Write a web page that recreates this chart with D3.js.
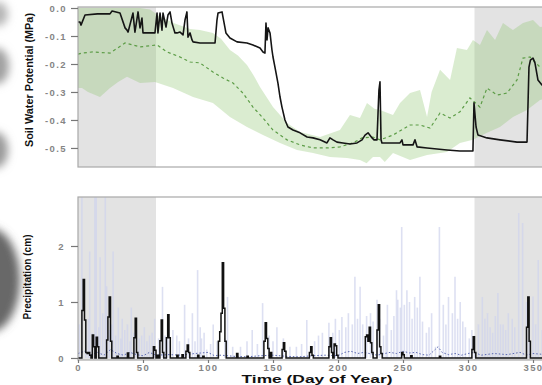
<!DOCTYPE html>
<html>
<head>
<meta charset="utf-8">
<script src="https://cdn.jsdelivr.net/npm/d3@7"></script>
<style>
  body { margin: 0; background: #fff; }
  svg { display: block; }
</style>
</head>
<body>
<div id="chart"></div>
<script>
// soil water potential (top) and precipitation (bottom) through the year
// shaded spans = dormant season
const shadeSpans = [[0, 60], [305, 366]];

// observed soil water potential (MPa)
const swpDay = [0,1.5,2.3,5.4,15,24.6,26.2,32.3,36.2,37.7,38.5,42.3,43.8,46.2,47.7,49.2,50,59.2,60.8,61.5,63.1,64.6,65.4,67.7,69.2,70.8,72.3,74.6,76.2,78.5,80.8,82.3,83.8,84.6,86.2,87.7,88.5,93.8,101.5,105.4,106.9,107.7,110.8,111.5,113.8,116.9,122.3,130,134.6,140,142.3,143.8,144.6,145.4,146.2,147.7,149.2,150,151.5,153.8,155.4,156.9,159.2,161.5,165.4,170.8,176.2,180.8,186.2,191.5,193.8,196.2,199.2,203.8,209.2,214.6,218.5,220.8,223.1,226.2,227.7,230,230.8,231.5,232.3,233.1,233.8,237.7,247.7,249.2,250,257.7,259.2,260.8,268.5,283.8,293.8,303.8,304.6,306.2,307.7,314.6,324.6,337.7,345.4,346.9,348,350,351.5,353.8,356.9,362];
const swpObs = [-0.05,-0.05,-0.061,-0.025,-0.021,-0.021,-0.011,-0.018,-0.071,-0.079,-0.086,-0.018,-0.086,-0.014,-0.071,-0.036,-0.089,-0.089,-0.018,-0.089,-0.018,-0.079,-0.018,-0.068,-0.025,-0.014,-0.054,-0.089,-0.089,-0.086,-0.096,-0.043,-0.014,-0.104,-0.089,-0.114,-0.121,-0.125,-0.125,-0.125,-0.043,-0.018,-0.014,-0.032,-0.089,-0.107,-0.121,-0.125,-0.132,-0.143,-0.157,-0.161,-0.054,-0.114,-0.071,-0.089,-0.15,-0.175,-0.211,-0.268,-0.318,-0.354,-0.4,-0.425,-0.436,-0.446,-0.461,-0.464,-0.471,-0.482,-0.464,-0.471,-0.479,-0.482,-0.486,-0.482,-0.471,-0.454,-0.446,-0.464,-0.471,-0.471,-0.375,-0.293,-0.264,-0.471,-0.482,-0.482,-0.482,-0.471,-0.489,-0.489,-0.471,-0.496,-0.5,-0.507,-0.511,-0.511,-0.339,-0.425,-0.454,-0.464,-0.471,-0.479,-0.479,-0.211,-0.186,-0.179,-0.196,-0.257,-0.275,-0.28];

// simulated mean
const meanDay = [0,3.1,11.5,24.6,36.2,47.7,60.8,68.5,78.5,86.2,93.8,103.8,111.5,119.2,126.9,134.6,142.3,150,160.8,170.8,180.8,191.5,201.5,211.5,218.5,226.9,232.3,242.3,255.4,263.1,270.8,278.5,286.2,293.8,301.5,309.2,314.6,322.3,330,337.7,342.3,347.7,355.4,362];
const meanSwp = [-0.165,-0.161,-0.157,-0.161,-0.125,-0.139,-0.132,-0.157,-0.175,-0.193,-0.196,-0.229,-0.25,-0.268,-0.304,-0.354,-0.393,-0.436,-0.471,-0.489,-0.5,-0.5,-0.496,-0.482,-0.464,-0.461,-0.471,-0.454,-0.418,-0.418,-0.429,-0.375,-0.393,-0.371,-0.321,-0.354,-0.286,-0.311,-0.304,-0.257,-0.179,-0.175,-0.211,-0.22];

// simulated range (upper and lower edge)
const hiDay = [0,16.9,40,47.7,55.4,63.1,74.6,86.2,93.8,103.8,110,116.9,123,130,135,140,150,160.8,170.8,186.2,201.5,209.2,216.9,222.3,228,232.3,242.3,247.7,255.4,263.1,268.5,272,278.5,286.2,291.5,299.2,303.8,309.2,314.6,320.8,326.9,334.6,342.3,350,355.4,366];
const hiSwp = [0,0,0,0,-0.005,-0.03,-0.055,-0.075,-0.079,-0.089,-0.11,-0.15,-0.17,-0.204,-0.24,-0.282,-0.354,-0.411,-0.443,-0.461,-0.436,-0.382,-0.393,-0.339,-0.36,-0.364,-0.382,-0.339,-0.304,-0.293,-0.389,-0.3,-0.221,-0.257,-0.143,-0.15,-0.114,-0.132,-0.079,-0.114,-0.054,-0.079,-0.054,-0.043,-0.068,-0.06];
const loDay = [0,3.1,7.7,16.9,24.6,30.8,37.7,47.7,59.2,73.1,88.5,103.8,116.9,130,142.3,155.4,168.5,180.8,193.8,206.9,216.9,222,226.9,232.3,236,242.3,255.4,268.5,283.8,293.8,303.8,314.6,324.6,334.6,345.4,355.4,366];
const loSwp = [-0.286,-0.286,-0.3,-0.318,-0.286,-0.264,-0.246,-0.268,-0.264,-0.286,-0.318,-0.339,-0.389,-0.425,-0.454,-0.482,-0.507,-0.518,-0.532,-0.536,-0.543,-0.555,-0.532,-0.532,-0.55,-0.518,-0.543,-0.525,-0.514,-0.482,-0.471,-0.446,-0.425,-0.389,-0.364,-0.329,-0.315];

// observed precipitation (cm), days without rain are 0
const obsDay = [3,4,5,6,7,8,9,11,12,14,15,22,23,24,25,30,38,43,44,45,58,59,61,63,64,65,68,69,70,76,80,83,84,85,92,96,108,109,110,111,112,113,122,130,143,144,145,146,148,157,158,159,178,179,180,193,194,195,197,198,199,221,222,223,224,225,226,230,231,232,233,249,250,256,278,303,304,305,345,346,347];
const obsP = [0.85,1.4,0.68,0.1,0.08,0.1,0.05,0.41,0.2,0.37,0.2,0.32,0.73,1.09,0.3,0.03,0.09,0.36,0.71,0.1,0.2,0.14,0.05,0.31,0.68,0.1,0.36,0.77,0.36,0.05,0.06,0.12,0.23,0.1,0.05,0.03,0.3,0.47,0.8,1.7,0.89,0.3,0.08,0.03,0.3,0.63,0.35,0.17,0.1,0.15,0.27,0.12,0.1,0.2,0.05,0.2,0.36,0.1,0.25,0.22,0.05,0.38,0.41,0.3,0.55,0.27,0.1,0.5,0.95,0.2,0.08,0.1,0.06,0.04,0.03,0.15,0.38,0.1,0.55,1.09,0.3];

// simulated precipitation: tallest ensemble spikes
const simDay = [3,9,13,14,17,21,22,27,31,34,38,41,45,49,51,57,59,65,69,73,76,82,88,92,94,95,99,104,115,119,134,142,153,163,176,188,193,198,203,208,213,217,219,222,230,235,238,241,245,246,249,251,253,255,259,261,263,268,272,275,278,281,285,290,294,298,301,305,311,315,319,323,327,331,334,339,342,345,350,354,357];
const simP = [2.87,1.9,2.87,2.87,1.8,2.87,1.28,1.9,0.9,0.7,0.6,0.9,0.5,0.4,0.55,0.45,0.7,1.27,0.6,0.5,0.4,0.95,0.8,1.57,0.55,0.35,0.15,0.6,1.09,0.2,0.5,0.98,0.55,0.2,0.68,0.45,0.63,0.7,0.73,0.8,1.45,1.27,0.6,0.75,1.04,0.4,0.95,0.5,1.21,1.04,2.34,0.95,1.21,1.0,1.09,0.9,1.45,0.45,0.8,0.2,2.34,0.95,1.09,1.45,1.0,0.55,0.35,0.4,1.09,0.8,0.45,1.16,0.6,0.8,0.7,2.59,2.41,1.0,1.1,1.75,0.5];
// ...and the lower spikes underneath them
const simLowDay = [1,6,8,11,16,19,24,26,29,33,36,40,43,47,53,55,62,67,71,78,85,90,97,102,107,113,125,130,138,147,150,158,168,172,182,185,196,201,206,211,215,225,227,232,237,243,248,257,265,270,283,288,292,296,303,308,313,317,321,325,329,336,347,352,360];
const simLow = [0.6,0.5,0.7,0.45,0.55,0.8,0.5,0.6,0.4,0.35,0.5,0.3,0.45,0.35,0.3,0.4,0.35,0.4,0.3,0.3,0.35,0.3,0.45,0.25,0.3,0.35,0.2,0.3,0.25,0.4,0.3,0.35,0.2,0.25,0.3,0.4,0.45,0.5,0.55,0.6,0.7,0.8,0.65,0.7,0.6,0.75,0.9,0.7,0.65,0.55,0.6,0.8,0.7,0.65,0.5,0.6,0.7,0.55,0.75,0.6,0.5,0.55,0.7,0.6,0.5];

// simulated mean precipitation
const meanPDay = [0,5,10,15,20,25,30,35,40,45,50,55,60,70,80,90,100,105,110,120,130,140,150,160,170,180,190,200,205,210,215,220,230,240,245,250,255,260,265,270,277,280,285,290,295,300,305,310,320,330,340,345,350,360];
const meanP = [0.08,0.12,0.06,0.1,0.05,0.15,0.08,0.05,0.1,0.06,0.04,0.1,0.05,0.06,0.05,0.08,0.1,0.04,0.05,0.03,0.02,0.04,0.05,0.03,0.02,0.04,0.05,0.04,0.1,0.12,0.08,0.1,0.05,0.1,0.08,0.12,0.09,0.1,0.06,0.05,0.2,0.1,0.06,0.08,0.05,0.08,0.1,0.05,0.08,0.06,0.1,0.05,0.08,0.06];

const swpTicks = [0, -0.1, -0.2, -0.3, -0.4, -0.5];
const precipTicks = [0, 1, 2];
const dayTicks = [0, 50, 100, 150, 200, 250, 300, 350];

const W = 542, H = 385;
const svg = d3.select("#chart").append("svg")
    .attr("width", W)
    .attr("height", H)
    .style("font-family", "'DejaVu Sans', sans-serif");

// blurry bits of the neighbouring figure on the left edge
const defs = svg.append("defs");
defs.append("filter").attr("id", "blur").attr("x", "-50%").attr("y", "-50%").attr("width", "200%").attr("height", "200%")
    .append("feGaussianBlur").attr("stdDeviation", 4);
const smudge = svg.append("g").attr("filter", "url(#blur)");
smudge.append("ellipse").attr("cx", -2).attr("cy", 14).attr("rx", 10).attr("ry", 12).attr("fill", "#b5b5b5");
smudge.append("ellipse").attr("cx", -3).attr("cy", 66).attr("rx", 12).attr("ry", 18).attr("fill", "#a0a0a0");
smudge.append("ellipse").attr("cx", -4).attr("cy", 150).attr("rx", 12).attr("ry", 18).attr("fill", "#9a9a9a");
smudge.append("ellipse").attr("cx", -10).attr("cy", 280).attr("rx", 30).attr("ry", 52).attr("fill", "#686868");

const x = d3.scaleLinear().domain([0, 366]).range([78, 78 + 366 * 1.3]);
const yTop = d3.scaleLinear().domain([-0.568, 0.0036]).range([167, 7]);
const yBot = d3.scaleLinear().domain([-0.036, 2.875]).range([360, 197]);

const tickFmt = d => d === 0 ? "0.0" : "-" + Math.abs(d).toFixed(1);

function panel(id, y) {
    const [y0, y1] = y.range();
    defs.append("clipPath").attr("id", id)
        .append("rect").attr("x", x.range()[0]).attr("y", y1)
        .attr("width", x.range()[1] - x.range()[0]).attr("height", y0 - y1);
    const g = svg.append("g").attr("clip-path", `url(#${id})`);
    g.selectAll("rect.shade").data(shadeSpans).join("rect")
        .attr("class", "shade")
        .attr("x", d => x(d[0]))
        .attr("width", d => x(d[1]) - x(d[0]))
        .attr("y", y1)
        .attr("height", y0 - y1)
        .attr("fill", "#e3e3e3");
    return g;
}

function box(y) {
    const [y0, y1] = y.range();
    svg.append("rect")
        .attr("x", x.range()[0]).attr("y", y1)
        .attr("width", x.range()[1] - x.range()[0]).attr("height", y0 - y1)
        .attr("fill", "none").attr("stroke", "#a8a8a8").attr("stroke-width", 1.2);
}

function styleAxis(g) {
    g.select(".domain").remove();
    g.selectAll(".tick line").attr("stroke", "#777").attr("stroke-width", 1.2);
    g.selectAll(".tick text")
        .attr("fill", "#858585")
        .attr("font-size", 9.5)
        .attr("font-weight", "bold")
        .attr("letter-spacing", 1.4);
}

// ---- top panel: soil water potential ----
const topG = panel("clipTop", yTop);

const hiPts = hiDay.map((d, i) => [d, hiSwp[i]]);
const loPts = loDay.map((d, i) => [d, loSwp[i]]).reverse();
topG.append("path")
    .attr("d", d3.line().x(d => x(d[0])).y(d => yTop(d[1]))(hiPts.concat(loPts)) + "Z")
    .attr("fill", "#8cc46c")
    .attr("fill-opacity", 0.32);

topG.append("path")
    .datum(meanDay.map((d, i) => [d, meanSwp[i]]))
    .attr("fill", "none")
    .attr("stroke", "#5c9c46")
    .attr("stroke-width", 1.2)
    .attr("stroke-dasharray", "3,3")
    .attr("d", d3.line().x(d => x(d[0])).y(d => yTop(d[1])));

topG.append("path")
    .datum(swpDay.map((d, i) => [d, swpObs[i]]))
    .attr("fill", "none")
    .attr("stroke", "#151515")
    .attr("stroke-width", 1.6)
    .attr("stroke-linejoin", "round")
    .attr("d", d3.line().x(d => x(d[0])).y(d => yTop(d[1])));

box(yTop);
svg.append("g")
    .attr("transform", `translate(${x.range()[0]},0)`)
    .call(d3.axisLeft(yTop).tickValues(swpTicks).tickFormat(tickFmt).tickSize(7).tickPadding(4))
    .call(styleAxis);

// ---- bottom panel: precipitation ----
const botG = panel("clipBot", yBot);

const simLines = simLowDay.map((d, i) => [d, simLow[i]])
    .concat(simDay.map((d, i) => [d, simP[i]]));
botG.selectAll("line.sim").data(simLines).join("line")
    .attr("class", "sim")
    .attr("x1", d => x(d[0])).attr("x2", d => x(d[0]))
    .attr("y1", yBot(0)).attr("y2", d => yBot(d[1]))
    .attr("stroke", "#cfd3ec")
    .attr("stroke-opacity", 0.7)
    .attr("stroke-width", 1.6);

botG.append("path")
    .datum(meanPDay.map((d, i) => [d, meanP[i]]))
    .attr("fill", "none")
    .attr("stroke", "#5a68b0")
    .attr("stroke-width", 1)
    .attr("stroke-dasharray", "1.5,2")
    .attr("d", d3.line().x(d => x(d[0])).y(d => yBot(d[1])));

// daily observed series drawn as steps
const obsLookup = new Map(obsDay.map((d, i) => [d, obsP[i]]));
const obsSeries = d3.range(0, 367).map(d => [d, obsLookup.get(d) || 0]);
botG.append("path")
    .datum(obsSeries)
    .attr("fill", "none")
    .attr("stroke", "#111")
    .attr("stroke-width", 1.5)
    .attr("d", d3.line().curve(d3.curveStepAfter).x(d => x(d[0])).y(d => yBot(d[1])));

box(yBot);
svg.append("g")
    .attr("transform", `translate(${x.range()[0]},0)`)
    .call(d3.axisLeft(yBot).tickValues(precipTicks).tickFormat(d3.format("d")).tickSize(7).tickPadding(6))
    .call(styleAxis);

svg.append("g")
    .attr("transform", `translate(0,${yBot.range()[0]})`)
    .call(d3.axisBottom(x).tickValues(dayTicks).tickSize(3).tickPadding(1))
    .call(styleAxis);

// ---- axis titles ----
svg.append("text")
    .attr("transform", "translate(33,80) rotate(-90)")
    .attr("text-anchor", "middle")
    .attr("font-family", "'Liberation Sans', Arial, sans-serif")
    .attr("font-size", 11.5)
    .attr("font-weight", "bold")
    .attr("fill", "#111")
    .attr("textLength", 134)
    .attr("lengthAdjust", "spacingAndGlyphs")
    .text("Soil Water Potential (MPa)");

svg.append("text")
    .attr("transform", "translate(31,277) rotate(-90)")
    .attr("text-anchor", "middle")
    .attr("font-family", "'Liberation Sans', Arial, sans-serif")
    .attr("font-size", 11.5)
    .attr("font-weight", "bold")
    .attr("fill", "#111")
    .attr("textLength", 85)
    .attr("lengthAdjust", "spacingAndGlyphs")
    .text("Precipitation (cm)");

svg.append("text")
    .attr("x", 317)
    .attr("y", 382.5)
    .attr("text-anchor", "middle")
    .attr("font-family", "'Liberation Sans', Arial, sans-serif")
    .attr("font-size", 11.5)
    .attr("font-weight", "bold")
    .attr("fill", "#111")
    .attr("textLength", 151)
    .attr("lengthAdjust", "spacingAndGlyphs")
    .text("Time (Day of Year)");
</script>
</body>
</html>
